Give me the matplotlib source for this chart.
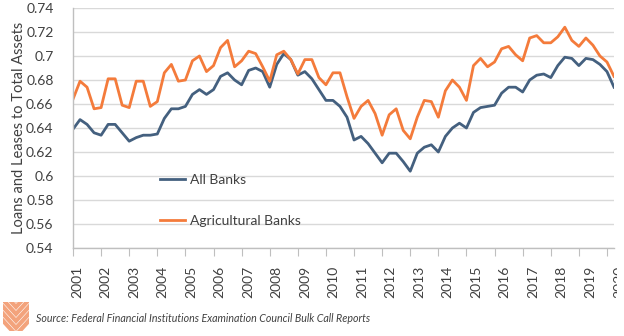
import matplotlib
matplotlib.use("Agg")
import matplotlib.pyplot as plt
from matplotlib.lines import Line2D
from matplotlib.patches import Rectangle
from matplotlib.transforms import Bbox, TransformedBbox, ScaledTranslation
import numpy as np

plt.rcParams['font.family'] = ['Lato', 'DejaVu Sans']

# Quarterly observations, 2001Q1 .. 2020Q2
all_banks = [
    0.639, 0.647, 0.643, 0.636, 0.634, 0.643, 0.643, 0.636,
    0.629, 0.632, 0.634, 0.634, 0.635, 0.648, 0.656, 0.656,
    0.658, 0.668, 0.672, 0.668, 0.672, 0.683, 0.686, 0.680,
    0.676, 0.688, 0.690, 0.687, 0.674, 0.693, 0.702, 0.697,
    0.684, 0.687, 0.681, 0.672, 0.663, 0.663, 0.658, 0.649,
    0.630, 0.633, 0.627, 0.619, 0.611, 0.619, 0.619, 0.612,
    0.604, 0.619, 0.624, 0.626, 0.620, 0.633, 0.640, 0.644,
    0.640, 0.653, 0.657, 0.658, 0.659, 0.669, 0.674, 0.674,
    0.670, 0.680, 0.684, 0.685, 0.682, 0.692, 0.699, 0.698,
    0.692, 0.698, 0.697, 0.693, 0.687, 0.674,
]
ag_banks = [
    0.664, 0.679, 0.674, 0.656, 0.657, 0.681, 0.681, 0.659,
    0.657, 0.679, 0.679, 0.658, 0.662, 0.686, 0.693, 0.679,
    0.680, 0.696, 0.700, 0.687, 0.692, 0.707, 0.713, 0.691,
    0.696, 0.704, 0.702, 0.691, 0.679, 0.701, 0.704, 0.697,
    0.685, 0.697, 0.697, 0.682, 0.676, 0.686, 0.686, 0.666,
    0.648, 0.658, 0.663, 0.652, 0.634, 0.651, 0.656, 0.638,
    0.631, 0.649, 0.663, 0.662, 0.649, 0.671, 0.680, 0.674,
    0.663, 0.692, 0.698, 0.691, 0.695, 0.706, 0.708, 0.701,
    0.696, 0.715, 0.717, 0.711, 0.711, 0.716, 0.724, 0.713,
    0.708, 0.715, 0.709, 0.700, 0.695, 0.683,
]
year_labels = [str(y) for y in range(2001, 2021)]
series_names = ["All Banks", "Agricultural Banks"]
y_label = "Loans and Leases to Total Assets"
source_text = "Source: Federal Financial Institutions Examination Council Bulk Call Reports"

blue = '#44607F'
orange = '#F47B3B'
grid_c = '#D9D9D9'
txt_c = '#404040'

W, H = 624, 336
fig = plt.figure(figsize=(W/100, H/100), dpi=100)
ax = fig.add_axes([73/W, 1 - 248/H, (614-73)/W, 240/H])

x = np.arange(len(all_banks))
ax.plot(x, all_banks, color=blue, lw=2.0, label=series_names[0], solid_joinstyle='round')
ax.plot(x, ag_banks, color=orange, lw=2.0, label=series_names[1], solid_joinstyle='round')

yt = np.round(np.arange(0.54, 0.7401, 0.02), 2)
ax.set_ylim(0.54, 0.74)
ax.set_yticks(yt)
ax.set_yticklabels([f"{v:g}" for v in yt])
ax.set_xlim(0, len(all_banks) - 1)

ax.grid(axis='y', color=grid_c, lw=1)
ax.set_axisbelow(True)
for s in ['top', 'right']:
    ax.spines[s].set_visible(False)
for s in ['left', 'bottom']:
    ax.spines[s].set_color('#BFBFBF')
    ax.spines[s].set_linewidth(1)
ax.tick_params(axis='y', length=0, pad=14, labelsize=10, colors=txt_c)
ax.tick_params(axis='x', length=6, color='#BFBFBF', pad=7, labelsize=10, colors=txt_c)
ax.set_xticks(np.arange(0, 4 * len(year_labels), 4))
ax.set_xticklabels(year_labels, rotation=90)

clipbox = TransformedBbox(Bbox([[0, 0], [617/W, 1]]), fig.transFigure)
labs = ax.get_xticklabels()
n = len(labs)
for k, lab in enumerate(labs):
    dx = (4 + 7 * k / (n - 3)) / 100.0
    lab.set_transform(lab.get_transform() + ScaledTranslation(dx, 0, fig.dpi_scale_trans))
    lab.set_clip_on(True)
    lab.set_clip_box(clipbox)
ax.set_ylabel(y_label, fontsize=10.5, color=txt_c, labelpad=0)

leg = ax.legend(loc='upper left', bbox_to_anchor=((160-73)/541, (248-174)/240),
                frameon=False, fontsize=10, handlelength=1.8, handletextpad=0.35,
                labelspacing=2.1, borderpad=0, borderaxespad=0)
for t in leg.get_texts():
    t.set_color(txt_c)

# Logo (chevron stripes clipped to a square)
logo_c = '#F3A37C'
box = Rectangle((3/W, 1 - 331/H), 26/W, 29/H, transform=fig.transFigure,
                facecolor='none', edgecolor='none')
fig.add_artist(box)
for k in range(-2, 4):
    vy = 314 + k * 7
    ln = Line2D([-10/W, 16/W, 42/W],
                [1 - (vy - 26*1.1)/H, 1 - vy/H, 1 - (vy - 26*1.1)/H],
                color=logo_c, lw=3.0, transform=fig.transFigure,
                solid_joinstyle='miter', solid_capstyle='butt')
    fig.add_artist(ln)
    ln.set_clip_path(box)

fig.text(36/W, 1 - 319/H, source_text, fontsize=7.7, style='italic',
         color='#404040', va='center', ha='left')

fig.savefig('out.png', dpi=100)
